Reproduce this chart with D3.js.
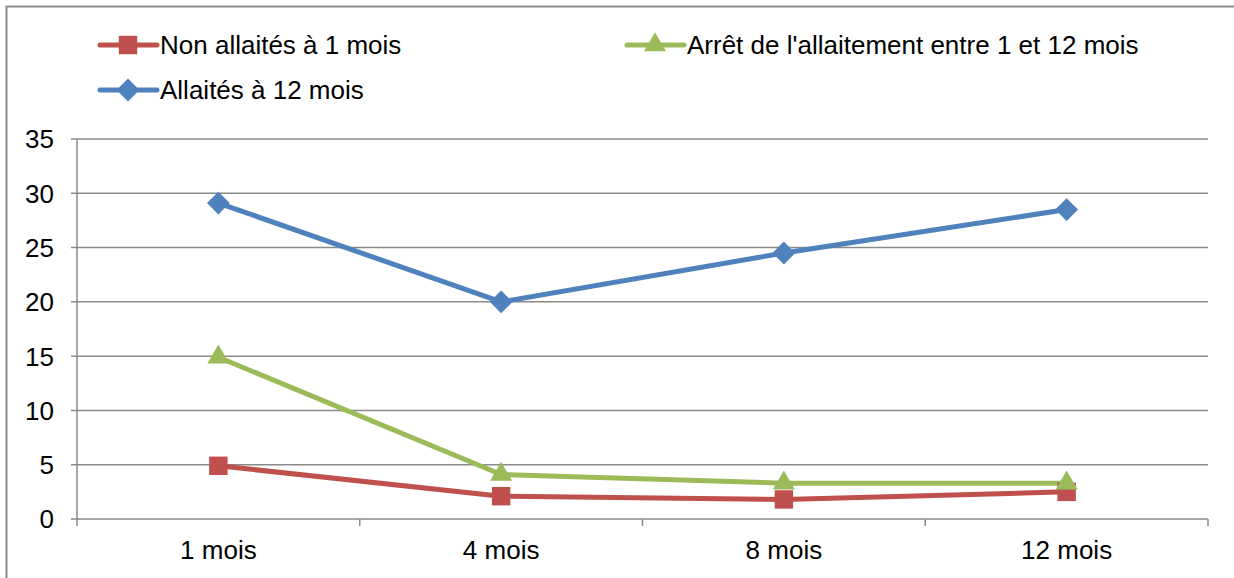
<!DOCTYPE html>
<html>
<head>
<meta charset="utf-8">
<script src="https://cdn.jsdelivr.net/npm/d3@7"></script>
<style>
  body { margin: 0; background: #fff; }
  text { font-family: "Liberation Sans", Arial, sans-serif; fill: #000; }
</style>
</head>
<body>
<div class="chart"></div>
<script>
// Data
const categories = ["1 mois", "4 mois", "8 mois", "12 mois"];
const nonAllaites = [4.9, 2.1, 1.8, 2.5];
const arretAllaitement = [14.9, 4.1, 3.3, 3.3];
const allaites12 = [29.1, 20.0, 24.5, 28.5];
const yTicks = [0, 5, 10, 15, 20, 25, 30, 35];

const series = [
    { name: "Non allaités à 1 mois", values: nonAllaites, color: "#C0504D", marker: "square" },
    { name: "Arrêt de l'allaitement entre 1 et 12 mois", values: arretAllaitement, color: "#9BBB59", marker: "triangle" },
    { name: "Allaités à 12 mois", values: allaites12, color: "#4F81BD", marker: "diamond" }
];

const width = 1234, height = 578;
const fontSize = "26px";
const svg = d3.select(".chart")
    .append("svg")
    .attr("width", width)
    .attr("height", height);

// outer chart border
svg.append("rect")
    .attr("x", 6.5).attr("y", 6.5)
    .attr("width", 1240).attr("height", 600)
    .attr("fill", "none")
    .attr("stroke", "#8c8c8c")
    .attr("stroke-width", 2);

const plot = { left: 77, right: 1208, top: 139, bottom: 519 };

const xScale = d3.scaleBand()
    .domain(categories)
    .range([plot.left, plot.right]);

const yScale = d3.scaleLinear()
    .domain([0, 35])
    .range([plot.bottom, plot.top]);

const gridColor = "#8a8a8a";

// horizontal gridlines
svg.append("g")
    .selectAll("line")
    .data(yTicks)
    .enter()
    .append("line")
    .attr("x1", plot.left - 6)
    .attr("x2", plot.right)
    .attr("y1", d => yScale(d))
    .attr("y2", d => yScale(d))
    .attr("stroke", gridColor)
    .attr("stroke-width", 1.5);

// y axis line
svg.append("line")
    .attr("x1", plot.left).attr("x2", plot.left)
    .attr("y1", plot.top).attr("y2", plot.bottom + 1)
    .attr("stroke", gridColor)
    .attr("stroke-width", 1.5);

// y tick labels
svg.append("g")
    .selectAll("text")
    .data(yTicks)
    .enter()
    .append("text")
    .attr("x", 54)
    .attr("y", d => yScale(d))
    .attr("dy", "0.36em")
    .attr("text-anchor", "end")
    .style("font-size", fontSize)
    .text(d => d);

// x tick marks at band edges
const xEdges = categories.map(c => xScale(c)).concat([plot.right]);
svg.append("g")
    .selectAll("line")
    .data(xEdges)
    .enter()
    .append("line")
    .attr("x1", d => d).attr("x2", d => d)
    .attr("y1", plot.bottom).attr("y2", plot.bottom + 7)
    .attr("stroke", gridColor)
    .attr("stroke-width", 1.5);

// x labels
svg.append("g")
    .selectAll("text")
    .data(categories)
    .enter()
    .append("text")
    .attr("x", d => xScale(d) + xScale.bandwidth() / 2)
    .attr("y", 559)
    .attr("text-anchor", "middle")
    .style("font-size", fontSize)
    .text(d => d);

const cx = c => xScale(c) + xScale.bandwidth() / 2;

const line = d3.line()
    .x((d, i) => cx(categories[i]))
    .y(d => yScale(d));

const symbolFor = {
    square: { d: d3.symbol().type(d3.symbolSquare).size(340), rot: 0 },
    triangle: { d: d3.symbol().type(d3.symbolTriangle).size(210), rot: 0 },
    diamond: { d: d3.symbol().type(d3.symbolSquare).size(260), rot: 45 }
};

// draw series lines and markers
series.forEach(s => {
    svg.append("path")
        .attr("fill", "none")
        .attr("stroke", s.color)
        .attr("stroke-width", 5)
        .attr("stroke-linejoin", "round")
        .attr("d", line(s.values));
});
series.forEach(s => {
    const sym = symbolFor[s.marker];
    svg.append("g")
        .selectAll("path")
        .data(s.values)
        .enter()
        .append("path")
        .attr("transform", (d, i) => `translate(${cx(categories[i])},${yScale(d)}) rotate(${sym.rot})`)
        .attr("d", sym.d)
        .attr("fill", s.color);
});

// legend
const legendPos = [
    { x: 100, y: 45 },
    { x: 627, y: 45 },
    { x: 100, y: 90 }
];
series.forEach((s, i) => {
    const p = legendPos[i];
    const sym = symbolFor[s.marker];
    const g = svg.append("g").attr("transform", `translate(${p.x},${p.y})`);
    g.append("line")
        .attr("x1", 0).attr("x2", 57)
        .attr("y1", 0).attr("y2", 0)
        .attr("stroke", s.color)
        .attr("stroke-width", 5)
        .attr("stroke-linecap", "round");
    g.append("path")
        .attr("transform", `translate(28,0) rotate(${sym.rot})`)
        .attr("d", sym.d)
        .attr("fill", s.color);
    g.append("text")
        .attr("x", 60)
        .attr("y", 0)
        .attr("dy", "0.36em")
        .style("font-size", fontSize)
        .text(s.name);
});
</script>
</body>
</html>
